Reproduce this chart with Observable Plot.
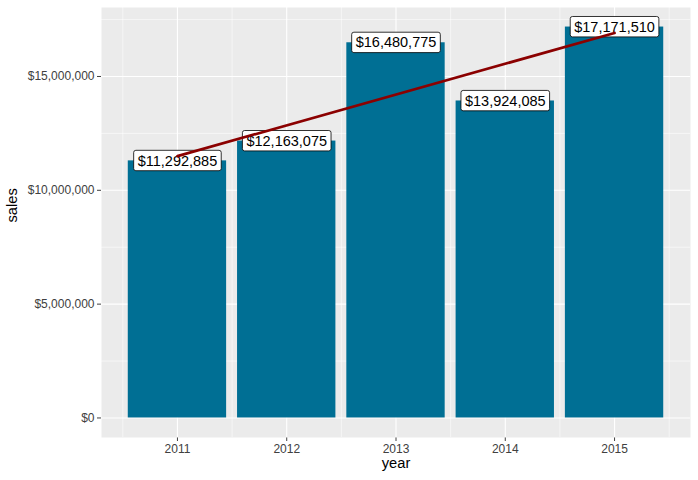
<!DOCTYPE html>
<html>
<head>
<meta charset="utf-8">
<script src="https://cdn.jsdelivr.net/npm/d3@7"></script>
<script src="https://cdn.jsdelivr.net/npm/@observablehq/plot@0.6"></script>
<style>
  html, body { margin: 0; padding: 0; background: #ffffff; }
  #chart { width: 698px; height: 480px; }
</style>
</head>
<body>
<div id="chart"></div>
<script>
// ---- data ----
const years = [2011, 2012, 2013, 2014, 2015];
const sales = [11292885, 12163075, 16480775, 13924085, 17171510];
const yMajorTicks = [0, 5000000, 10000000, 15000000];
const yMinorTicks = [2500000, 7500000, 12500000, 17500000];
const xMinorTicks = [2010.5, 2011.5, 2012.5, 2013.5, 2014.5, 2015.5];
const xLabel = "year";
const yLabel = "sales";

const data = years.map((year, i) => ({year, sales: sales[i]}));
const dollar = d => "$" + d3.format(",")(d);

const barHalf = 0.45;
const yMax = d3.max(sales);
const xLo = d3.min(years) - barHalf, xHi = d3.max(years) + barHalf;
const xPad = (xHi - xLo) * 0.05;

const font = "'Liberation Sans', Arial, Helvetica, sans-serif";

const chart = Plot.plot({
  width: 698,
  height: 480,
  marginLeft: 101,
  marginRight: 8,
  marginTop: 7,
  marginBottom: 43,
  style: {fontFamily: font, fontSize: "12px", color: "#404040", background: "#ffffff"},
  x: {domain: [xLo - xPad, xHi + xPad], ticks: years, tickFormat: "d", tickSize: 4, tickPadding: 3, label: null},
  y: {domain: [-0.05 * yMax, 1.05 * yMax], ticks: yMajorTicks, tickFormat: dollar, tickSize: 4, tickPadding: 3, label: null},
  marks: [
    Plot.frame({fill: "#EBEBEB", stroke: "none"}),
    Plot.ruleY(yMinorTicks, {stroke: "#ffffff", strokeWidth: 0.55}),
    Plot.ruleX(xMinorTicks, {stroke: "#ffffff", strokeWidth: 0.55}),
    Plot.ruleY(yMajorTicks, {stroke: "#ffffff", strokeWidth: 1.1}),
    Plot.ruleX(years, {stroke: "#ffffff", strokeWidth: 1.1}),
    Plot.rectY(data, {x1: d => d.year - barHalf, x2: d => d.year + barHalf, y: "sales", fill: "#006F94"}),
    Plot.text(data, {x: "year", y: "sales", text: d => dollar(d.sales), fill: "black", fontSize: 14.5, fontFamily: font, ariaDescription: "value labels"}),
    Plot.linearRegressionY(data, {x: "year", y: "sales", stroke: "#8B0000", strokeWidth: 2.7, ci: 0}),
    Plot.text([yLabel], {text: d => d, frameAnchor: "left", dx: -89, rotate: -90, fill: "black", fontSize: 14.7, fontFamily: font}),
    Plot.text([xLabel], {text: d => d, frameAnchor: "bottom", dy: 30, fill: "black", fontSize: 14.7, fontFamily: font})
  ]
});

document.getElementById("chart").appendChild(chart);

// draw ggplot-style label boxes behind the value labels
const ns = "http://www.w3.org/2000/svg";
const svgEl = chart.tagName.toLowerCase() === "svg" ? chart : chart.querySelector("svg");
svgEl.querySelectorAll('g[aria-description="value labels"] text').forEach(t => {
  const b = t.getBBox();
  const r = document.createElementNS(ns, "rect");
  const px = 4, py = 2.2;
  r.setAttribute("x", b.x - px);
  r.setAttribute("y", b.y - py);
  r.setAttribute("width", b.width + 2 * px);
  r.setAttribute("height", b.height + 2 * py);
  r.setAttribute("rx", 2.2);
  r.setAttribute("ry", 2.2);
  r.setAttribute("fill", "#ffffff");
  r.setAttribute("stroke", "#000000");
  r.setAttribute("stroke-width", 0.8);
  const tr = t.getAttribute("transform");
  if (tr) r.setAttribute("transform", tr);
  t.parentNode.insertBefore(r, t);
});
</script>
</body>
</html>
